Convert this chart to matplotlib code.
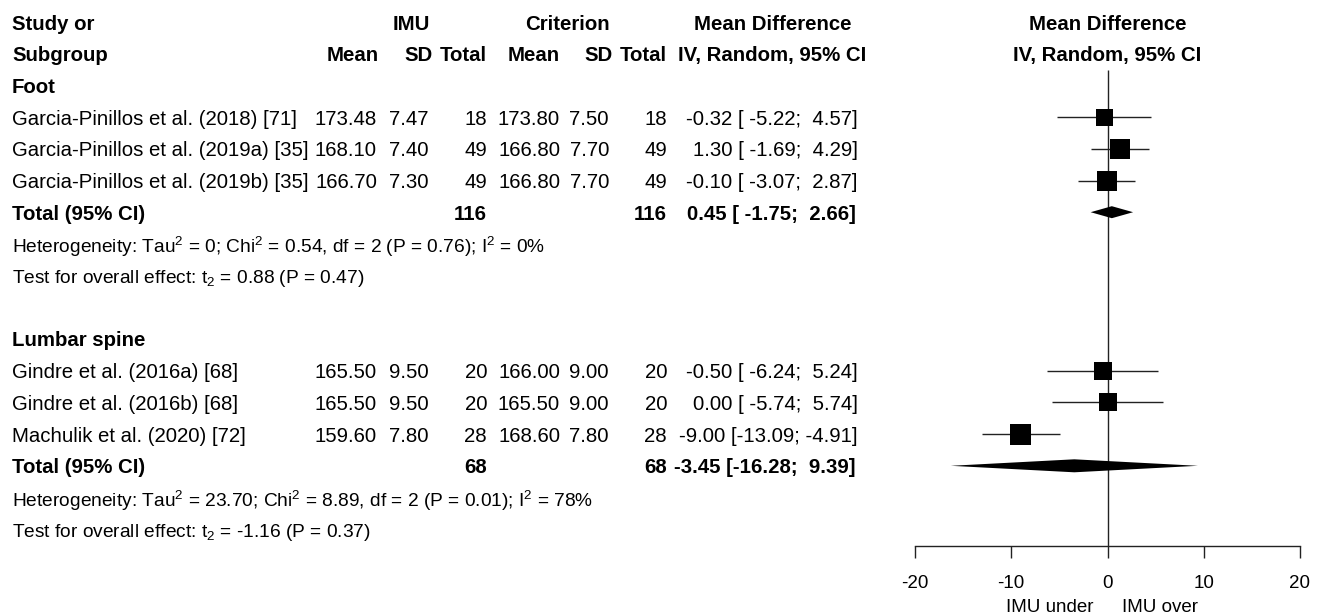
import matplotlib
matplotlib.use('Agg')
import matplotlib.pyplot as plt
from matplotlib.patches import Rectangle, Polygon
import matplotlib.transforms as mtransforms

plt.rcParams['font.family'] = ['Liberation Sans', 'DejaVu Sans']
plt.rcParams['mathtext.fontset'] = 'custom'
plt.rcParams['mathtext.rm'] = 'Liberation Sans'
plt.rcParams['mathtext.it'] = 'Liberation Sans:italic'
plt.rcParams['mathtext.bf'] = 'Liberation Sans:bold'
plt.rcParams['axes.unicode_minus'] = False

# ---------------- data ----------------
group_names = ['Foot', 'Lumbar spine']

foot_studies = ['Garcia-Pinillos et al. (2018) [71]',
                'Garcia-Pinillos et al. (2019a) [35]',
                'Garcia-Pinillos et al. (2019b) [35]']
foot_imu_mean = [173.48, 168.10, 166.70]
foot_imu_sd = [7.47, 7.40, 7.30]
foot_imu_n = [18, 49, 49]
foot_crit_mean = [173.80, 166.80, 166.80]
foot_crit_sd = [7.50, 7.70, 7.70]
foot_crit_n = [18, 49, 49]
foot_md = [-0.32, 1.30, -0.10]
foot_lo = [-5.22, -1.69, -3.07]
foot_hi = [4.57, 4.29, 2.87]
foot_total = dict(n_imu=116, n_crit=116, md=0.45, lo=-1.75, hi=2.66)
foot_het = 'Heterogeneity: Tau$^2$ = 0; Chi$^2$ = 0.54, df = 2 (P = 0.76); I$^2$ = 0%'
foot_test = 'Test for overall effect: t$_2$ = 0.88 (P = 0.47)'

lumb_studies = ['Gindre et al. (2016a) [68]',
                'Gindre et al. (2016b) [68]',
                'Machulik et al. (2020) [72]']
lumb_imu_mean = [165.50, 165.50, 159.60]
lumb_imu_sd = [9.50, 9.50, 7.80]
lumb_imu_n = [20, 20, 28]
lumb_crit_mean = [166.00, 165.50, 168.60]
lumb_crit_sd = [9.00, 9.00, 7.80]
lumb_crit_n = [20, 20, 28]
lumb_md = [-0.50, 0.00, -9.00]
lumb_lo = [-6.24, -5.74, -13.09]
lumb_hi = [5.24, 5.74, -4.91]
lumb_total = dict(n_imu=68, n_crit=68, md=-3.45, lo=-16.28, hi=9.39)
lumb_het = 'Heterogeneity: Tau$^2$ = 23.70; Chi$^2$ = 8.89, df = 2 (P = 0.01); I$^2$ = 78%'
lumb_test = 'Test for overall effect: t$_2$ = -1.16 (P = 0.37)'

x_ticks = [-20, -10, 0, 10, 20]
x_limits = (-20, 20)
left_label = 'IMU under'
right_label = 'IMU over'

# marker sizes (px) as drawn in the original
foot_box_px = [17, 20, 20]
lumb_box_px = [18, 18, 21]
foot_diamond_px = 12
lumb_diamond_px = 13

# ---------------- layout ----------------
W, H, DPI = 1321, 615, 100
fig = plt.figure(figsize=(W / DPI, H / DPI), dpi=DPI)

ROW0, ROWH = 22.0, 31.7
def ypx(r):
    return ROW0 + ROWH * r
def fx(x):
    return x / W
def fy(y):
    return 1 - y / H

FS = 14.7
FS_HET = 13.8
FS_TICK = 13.5

def put(x, r, s, ha='left', bold=False, fs=FS):
    fig.text(fx(x), fy(ypx(r)), s, ha=ha, va='center_baseline', fontsize=fs,
             fontweight='bold' if bold else 'normal', color='black')

# forest axes
AX_L, AX_R, AX_B = 915, 1300, 546
ax = fig.add_axes([fx(AX_L), fy(AX_B), (AX_R - AX_L) / W, AX_B / H])
ax.set_xlim(*x_limits)
r_bottom = (AX_B - ROW0) / ROWH
r_top = -ROW0 / ROWH
ax.set_ylim(r_bottom, r_top)
for s in ['left', 'right', 'top']:
    ax.spines[s].set_visible(False)
ax.spines['bottom'].set_linewidth(1.0)
ax.spines['bottom'].set_color('#222222')
ax.set_yticks([])
ax.set_xticks(x_ticks)
ax.set_xticklabels([str(t) for t in x_ticks])
ax.tick_params(axis='x', length=8.6, width=1.0, pad=12, labelsize=FS_TICK, colors='#222222',
               labelcolor='black')
ax.patch.set_alpha(0)

px_per_x = (AX_R - AX_L) / (x_limits[1] - x_limits[0])

# reference line
ax.vlines(0, 1.52, r_bottom, color='#222222', lw=1.0)

# headers
put(12, 0, 'Study or', bold=True)
put(430, 0, 'IMU', ha='right', bold=True)
put(610, 0, 'Criterion', ha='right', bold=True)
put(773, 0, 'Mean Difference', ha='center', bold=True)
put(12, 1, 'Subgroup', bold=True)
put(379, 1, 'Mean', ha='right', bold=True)
put(433, 1, 'SD', ha='right', bold=True)
put(487, 1, 'Total', ha='right', bold=True)
put(560, 1, 'Mean', ha='right', bold=True)
put(613, 1, 'SD', ha='right', bold=True)
put(667, 1, 'Total', ha='right', bold=True)
put(772, 1, 'IV, Random, 95% CI', ha='center', bold=True)
blend = mtransforms.blended_transform_factory(ax.transData, fig.transFigure)
ax.text(0, fy(ypx(0)), 'Mean Difference', ha='center', va='center_baseline',
        fontsize=FS, fontweight='bold', transform=blend)
ax.text(0, fy(ypx(1)), 'IV, Random, 95% CI', ha='center', va='center_baseline',
        fontsize=FS, fontweight='bold', transform=blend)

def ci_text(md, lo, hi):
    return f'{md:.2f} [{lo:6.2f}; {hi:5.2f}]'

def draw_group(start_row, name, studies, im, isd, inn, cm, csd, cn, md, lo, hi,
               box_px, total, dia_px, het, test):
    put(12, start_row, name, bold=True)
    for i, st in enumerate(studies):
        r = start_row + 1 + i
        put(12, r, st)
        put(377, r, f'{im[i]:.2f}', ha='right')
        put(429, r, f'{isd[i]:.2f}', ha='right')
        put(487, r, f'{inn[i]}', ha='right')
        put(560, r, f'{cm[i]:.2f}', ha='right')
        put(609, r, f'{csd[i]:.2f}', ha='right')
        put(667, r, f'{cn[i]}', ha='right')
        put(858, r, ci_text(md[i], lo[i], hi[i]), ha='right')
        ax.hlines(r, lo[i], hi[i], color='#222222', lw=1.0)
        w = box_px[i] / px_per_x
        h = box_px[i] / ROWH
        ax.add_patch(Rectangle((md[i] - w / 2, r - h / 2), w, h,
                               facecolor='black', edgecolor='none', zorder=3))
    r = start_row + 1 + len(studies)
    put(12, r, 'Total (95% CI)', bold=True)
    put(487, r, f"{total['n_imu']}", ha='right', bold=True)
    put(667, r, f"{total['n_crit']}", ha='right', bold=True)
    put(856, r, ci_text(total['md'], total['lo'], total['hi']), ha='right', bold=True)
    hh = dia_px / 2 / ROWH
    ax.add_patch(Polygon([(total['lo'], r), (total['md'], r - hh),
                          (total['hi'], r), (total['md'], r + hh)],
                         closed=True, facecolor='black', edgecolor='none', zorder=3))
    put(12, r + 1, het, fs=FS_HET)
    put(12, r + 2, test, fs=FS_HET)

draw_group(2, group_names[0], foot_studies, foot_imu_mean, foot_imu_sd, foot_imu_n,
           foot_crit_mean, foot_crit_sd, foot_crit_n, foot_md, foot_lo, foot_hi,
           foot_box_px, foot_total, foot_diamond_px, foot_het, foot_test)
draw_group(10, group_names[1], lumb_studies, lumb_imu_mean, lumb_imu_sd, lumb_imu_n,
           lumb_crit_mean, lumb_crit_sd, lumb_crit_n, lumb_md, lumb_lo, lumb_hi,
           lumb_box_px, lumb_total, lumb_diamond_px, lumb_het, lumb_test)

# under / over labels
ax.text(-1.5, fy(606), left_label, ha='right', va='center_baseline', fontsize=FS_TICK,
        transform=blend)
ax.text(1.5, fy(606), right_label, ha='left', va='center_baseline', fontsize=FS_TICK,
        transform=blend)

fig.savefig('out.png', dpi=DPI, facecolor='white')
